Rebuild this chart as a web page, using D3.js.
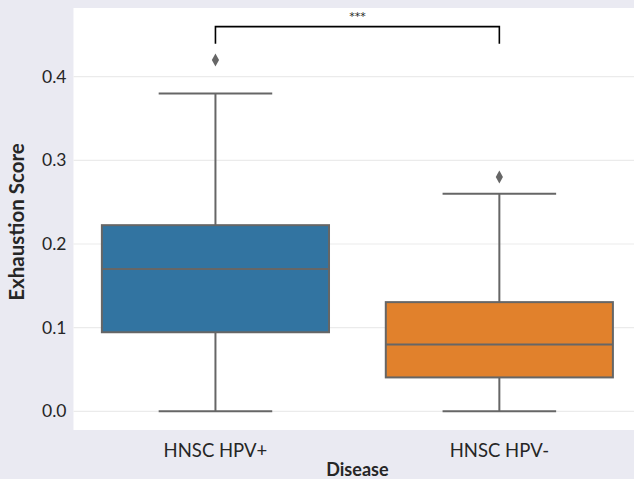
<!DOCTYPE html>
<html><head><meta charset="utf-8">
<script src="https://cdn.jsdelivr.net/npm/d3@7"></script>
<style>body{margin:0;background:#eaeaf2;} svg{display:block;}</style>
</head><body>
<svg id="c" width="634" height="479"></svg>
<script>
const categories = ["HNSC HPV+", "HNSC HPV-"];
const q1 = [0.0945, 0.0405];
const medians = [0.170, 0.080];
const q3 = [0.2225, 0.1305];
const whiskerLow = [0.0, 0.0];
const whiskerHigh = [0.380, 0.260];
const outliers = [[0.420], [0.280]];
const colors = ["#3274a1", "#e1812c"];
const yTicks = [0.0, 0.1, 0.2, 0.3, 0.4];
const sigLabel = "***";
const sigY = 0.4598, sigDrop = 0.4395;

(function () {
const svg = d3.select("#c");
const W = 634, H = 479;
const pL = 73.5, pR = 641.3, pT = 8, pB = 430;
svg.append("rect").attr("width", W).attr("height", H).attr("fill", "#eaeaf2");
svg.append("rect").attr("x", pL).attr("y", pT).attr("width", pR - pL).attr("height", pB - pT).attr("fill", "#ffffff");

const x = d3.scaleBand().domain(categories).range([pL, pR]).padding(0);
const y = d3.scaleLinear().domain([-0.02235, 0.4821]).range([pB, pT]);

const font = "Lato, 'Open Sans', sans-serif";
const lineCol = "#666666";

svg.append("g").selectAll("line").data(yTicks).join("line")
  .attr("x1", pL).attr("x2", pR)
  .attr("y1", d => y(d)).attr("y2", d => y(d))
  .attr("stroke", "#ebebeb").attr("stroke-width", 1.2);

const yAxis = d3.axisLeft(y).tickValues(yTicks).tickFormat(d3.format(".1f")).tickSize(0).tickPadding(7);
const ga = svg.append("g").attr("transform", `translate(${pL},0)`).call(yAxis);
ga.select(".domain").remove();
ga.selectAll("text").attr("font-family", font).attr("font-size", 17.5).attr("fill", "#262626");

const xAxis = d3.axisBottom(x).tickSize(0).tickPadding(14);
const gx = svg.append("g").attr("transform", `translate(0,${pB})`).call(xAxis);
gx.select(".domain").remove();
gx.selectAll("text").attr("font-family", font).attr("font-size", 18.5).attr("fill", "#262626");

svg.append("text").attr("x", (pL + pR) / 2).attr("y", 475.5).attr("text-anchor", "middle")
  .attr("font-family", font).attr("font-weight", "bold").attr("font-size", 18).attr("fill", "#262626").text("Disease");
svg.append("text").attr("transform", `translate(24,222) rotate(-90)`).attr("text-anchor", "middle")
  .attr("font-family", font).attr("font-weight", "bold").attr("font-size", 20.5).attr("fill", "#262626").text("Exhaustion Score");

const bw = x.bandwidth() * 0.8;
const data = categories.map((c, i) => ({c, i}));
const g = svg.append("g");
data.forEach(d => {
  const cx = x(d.c) + x.bandwidth() / 2;
  const gg = g.append("g");
  gg.append("line").attr("x1", cx).attr("x2", cx).attr("y1", y(q3[d.i])).attr("y2", y(whiskerHigh[d.i])).attr("stroke", lineCol).attr("stroke-width", 2);
  gg.append("line").attr("x1", cx).attr("x2", cx).attr("y1", y(q1[d.i])).attr("y2", y(whiskerLow[d.i])).attr("stroke", lineCol).attr("stroke-width", 2);
  gg.append("line").attr("x1", cx - bw / 4).attr("x2", cx + bw / 4).attr("y1", y(whiskerHigh[d.i])).attr("y2", y(whiskerHigh[d.i])).attr("stroke", lineCol).attr("stroke-width", 2);
  gg.append("line").attr("x1", cx - bw / 4).attr("x2", cx + bw / 4).attr("y1", y(whiskerLow[d.i])).attr("y2", y(whiskerLow[d.i])).attr("stroke", lineCol).attr("stroke-width", 2);
  gg.append("rect").attr("x", cx - bw / 2).attr("width", bw)
    .attr("y", y(q3[d.i])).attr("height", y(q1[d.i]) - y(q3[d.i]))
    .attr("fill", colors[d.i]).attr("stroke", lineCol).attr("stroke-width", 2);
  gg.append("line").attr("x1", cx - bw / 2).attr("x2", cx + bw / 2).attr("y1", y(medians[d.i])).attr("y2", y(medians[d.i])).attr("stroke", lineCol).attr("stroke-width", 2);
  gg.selectAll("path.o").data(outliers[d.i]).join("path")
    .attr("d", v => { const py = y(v); return `M${cx},${py - 6.5}L${cx + 3.6},${py}L${cx},${py + 6.5}L${cx - 3.6},${py}Z`; })
    .attr("fill", lineCol);
});

const cx0 = x(categories[0]) + x.bandwidth() / 2, cx1 = x(categories[1]) + x.bandwidth() / 2;
svg.append("path").attr("d", `M${cx0},${y(sigDrop)}V${y(sigY)}H${cx1}V${y(sigDrop)}`)
  .attr("fill", "none").attr("stroke", "#000").attr("stroke-width", 1.6);
svg.append("text").attr("x", (cx0 + cx1) / 2).attr("y", 20).attr("text-anchor", "middle")
  .attr("font-family", "'DejaVu Sans', sans-serif").attr("font-size", 11).attr("fill", "#262626").text(sigLabel);
})();
</script>
</body></html>
